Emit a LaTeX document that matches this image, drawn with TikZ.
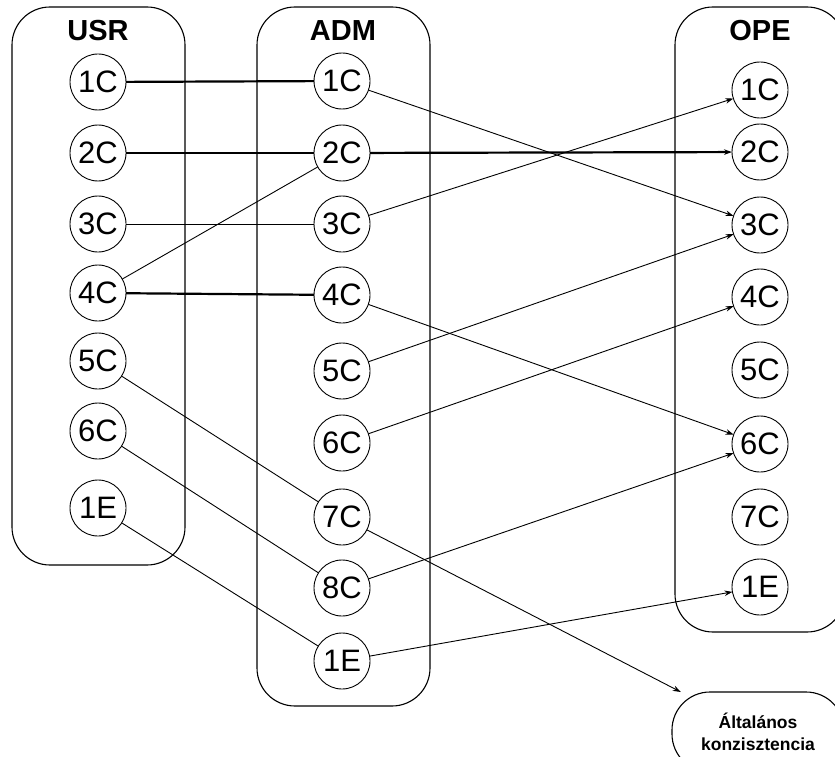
\documentclass[tikz,border=0pt]{standalone}
\usepackage{fontspec}
\setmainfont{Liberation Sans}
\usetikzlibrary{positioning, arrows.meta}
\tikzset{
	>={Stealth[length=8pt,width=5.5pt]},
	every node/.append style={
		inner sep=0pt,
		outer sep=0pt,
	},
	item/.append style={
		draw, circle,
		line width=0.9pt,
		minimum size=56pt,
		font={\fontsize{31}{36}\selectfont}
	},
	title/.append style={
		font={\fontsize{29}{34}\selectfont\bfseries}
	},
	group/.append style={
		draw,
		line width=1.1pt,
		rounded corners=38pt
	},
	link/.append style={
		line width=0.9pt
	},
	strong/.append style={
		line width=2.2pt
	},
	sink/.append style={
		draw,
		line width=1.1pt,
		rounded corners=38pt,
		align=center,
		minimum width=172pt,
		minimum height=80pt,
		font={\fontsize{17.5}{22}\selectfont\bfseries}
	}
}

\begin{document}
\begin{tikzpicture}[x=1pt, y=-1pt]

\useasboundingbox (0,0) rectangle (835,757);

% the three groups
\draw[group] (12,7) rectangle (185,565);
\draw[group] (257,7) rectangle (430,706);
\draw[group] (675,7) rectangle (845,632);

\node(tu)[title] at (98,31) {USR};
\node(ta)[title] at (343,31) {ADM};
\node(to)[title] at (760,31) {OPE};

% USR
\node(u1)[item] at (98,82) {1C};
\node(u2)[item, below=15pt of u1] {2C};
\node(u3)[item, below=15pt of u2] {3C};
\node(u4)[item, below=13pt of u3] {4C};
\node(u5)[item, below=12pt of u4] {5C};
\node(u6)[item, below=14pt of u5] {6C};
\node(u7)[item, below=21pt of u6] {1E};

% ADM
\node(a1)[item] at (342,81) {1C};
\node(a2)[item, below=16pt of a1] {2C};
\node(a3)[item, below=15pt of a2] {3C};
\node(a4)[item, below=15pt of a3] {4C};
\node(a5)[item, below=20pt of a4] {5C};
\node(a6)[item, below=16pt of a5] {6C};
\node(a7)[item, below=18pt of a6] {7C};
\node(a8)[item, below=15pt of a7] {8C};
\node(a9)[item, below=17pt of a8] {1E};

% OPE
\node(o1)[item] at (760,90) {1C};
\node(o2)[item, below=6pt of o1] {2C};
\node(o3)[item, below=17pt of o2] {3C};
\node(o4)[item, below=16pt of o3] {4C};
\node(o5)[item, below=17pt of o4] {5C};
\node(o6)[item, below=18pt of o5] {6C};
\node(o7)[item, below=17pt of o6] {7C};
\node(o8)[item, below=14pt of o7] {1E};

\node(all)[sink] at (758,732) {Általános\\konzisztencia};

% USR -> ADM
\draw[strong] (u1) -- (a1);
\draw[strong] (u2) -- (a2);
\draw[link] (u3) -- (a3);
\draw[link] (u4) -- (a2);
\draw[strong] (u4) -- (a4);
\draw[link] (u5) -- (a7);
\draw[link] (u6) -- (a8);
\draw[link] (u7) -- (a9);

% ADM -> OPE
\draw[->, link] (a1) edge (o3);
\draw[->, strong] (a2) edge (o2);
\draw[->, link] (a3) edge (o1);
\draw[->, link] (a4) edge (o6);
\draw[->, link] (a5) edge (o3);
\draw[->, link] (a6) edge (o4);
\draw[->, link] (a7) edge (all);
\draw[->, link] (a8) edge (o6);
\draw[->, link] (a9) edge (o8);

\end{tikzpicture}
\end{document}
